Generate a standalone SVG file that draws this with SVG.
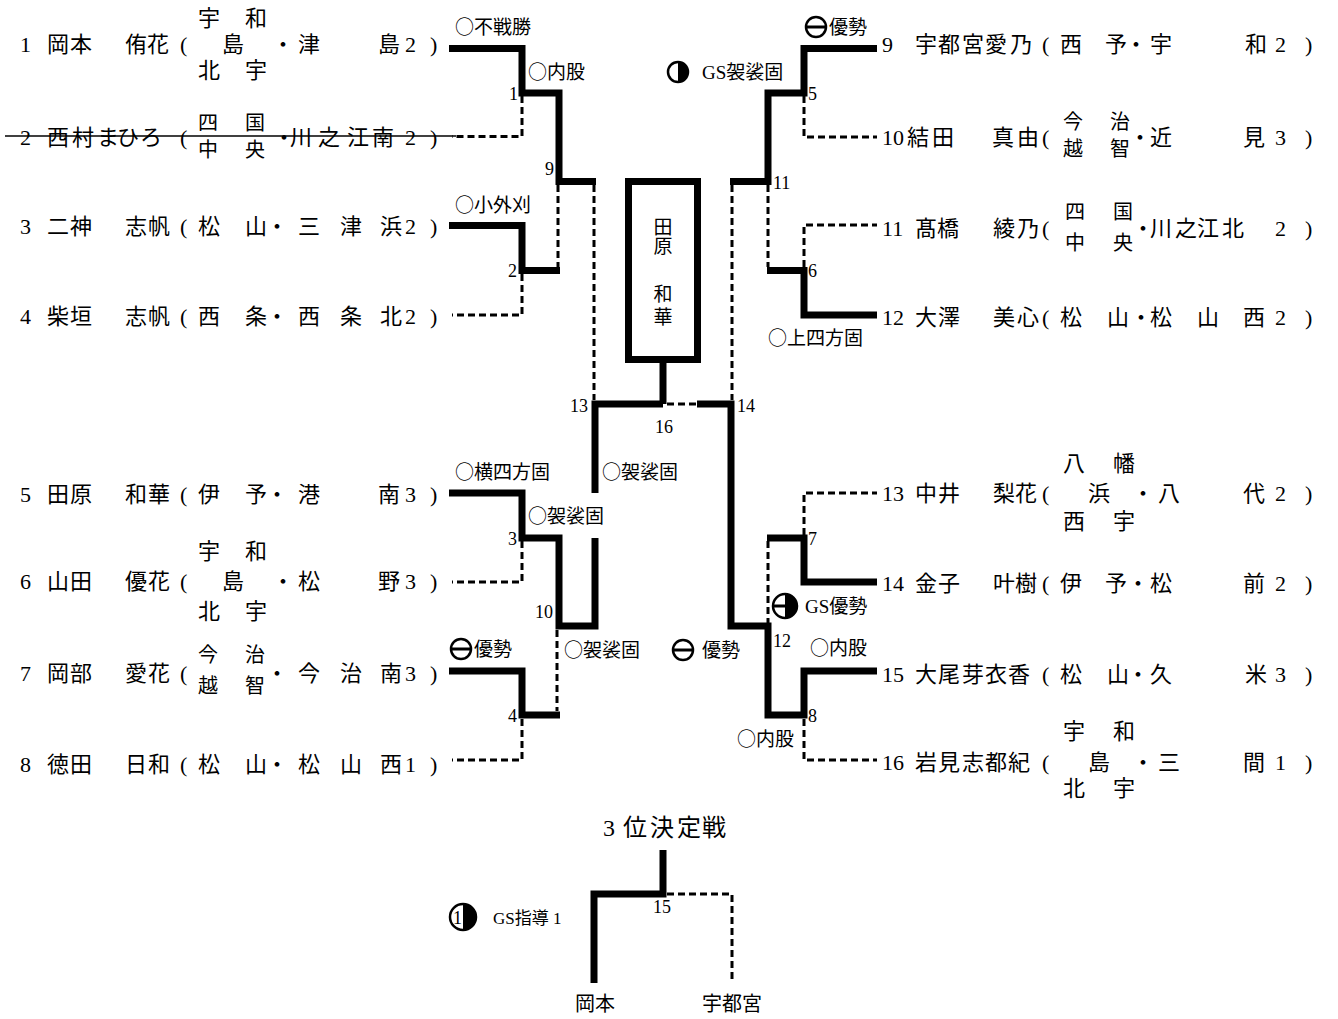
<svg xmlns="http://www.w3.org/2000/svg" width="1338" height="1019" viewBox="0 0 1338 1019">
<style>
text{font-family:"Liberation Serif","Noto Sans CJK JP",serif;fill:#000}
.cj{font-family:"Noto Sans CJK JP",sans-serif}
.m{font-size:22px}
.st{font-size:20px}
.l{font-size:19px}
.n{font-size:18px}
.e{text-anchor:end}
.mid{text-anchor:middle}
.w{fill:none;stroke:#000;stroke-width:7;stroke-linejoin:miter;stroke-linecap:butt}
.d{fill:none;stroke:#000;stroke-width:3;stroke-dasharray:7 4}
.ring{fill:#fff;stroke:#000;stroke-width:2.5}
.bar{stroke:#000;stroke-width:3}
</style>
<rect width="1338" height="1019" fill="#fff"/>

<!-- connectors -->
<g id="connectors">
  <!-- left upper -->
  <path class="w" d="M449,48.5 H522 V93 H559 V181.5 H596"/>
  <path class="d" d="M522,96 V136.5 H452"/>
  <path class="w" d="M449,225.5 H522 V270.5 H560"/>
  <path class="d" d="M522,274 V315 H452"/>
  <path class="d" d="M558,185 V267"/>
  <path class="d" d="M594,185 V400"/>
  <!-- left lower -->
  <path class="w" d="M449,493 H522 V538 H559 V626 H595 V538"/>
  <path class="w" d="M595,493 V404 H663"/>
  <path class="d" d="M522,541 V582 H452"/>
  <path class="w" d="M449,671 H522 V715 H560"/>
  <path class="d" d="M557,630 V711"/>
  <path class="d" d="M522,719 V760 H452"/>
  <!-- right upper -->
  <path class="w" d="M877,48.5 H804 V93 H768 V181.5 H730"/>
  <path class="d" d="M804,96 V137 H877"/>
  <path class="w" d="M877,315 H804 V270.5 H767"/>
  <path class="d" d="M804,267 V225 H877"/>
  <path class="d" d="M768,185 V267"/>
  <path class="d" d="M732,185 V400"/>
  <!-- right lower -->
  <path class="w" d="M697,404 H731 V626 H768 V715 H804 V671 H877"/>
  <path class="w" d="M877,582 H804 V538 H767"/>
  <path class="d" d="M804,535 V493 H877"/>
  <path class="d" d="M768,541 V623"/>
  <path class="d" d="M804,719 V760 H877"/>
  <!-- final -->
  <path class="d" d="M667,404 H697"/>
  <path class="w" d="M663,362 V404"/>
  <!-- third place -->
  <path class="w" d="M663,850 V894 H594 V983"/>
  <path class="d" d="M667,894 H732 V983"/>
  <!-- withdrawal strike -->
  <path d="M5,136 H456" stroke="#000" stroke-width="1.5" fill="none"/>
</g>

<!-- champion box -->
<g id="champion-box">
  <rect x="628.5" y="181.5" width="69" height="178" fill="#fff" stroke="#000" stroke-width="7"/>
  <text class="l mid" x="663" y="234">田</text>
  <text class="l mid" x="663" y="253">原</text>
  <text class="l mid" x="663" y="301">和</text>
  <text class="l mid" x="663" y="324">華</text>
</g>

<!-- left players -->
<g id="player-1">
  <text class="m" x="20" y="52">1</text>
  <text class="m" x="47 70 96 125 147" y="52">岡本　侑花</text>
  <text class="m" x="180" y="52">(</text>
  <text class="m" x="198 222 245" y="26">宇　和</text>
  <text class="m" x="222" y="52">島</text>
  <text class="m" x="198 222 245" y="78">北　宇</text>
  <text class="m" x="272 298 338 378" y="52">・津　島</text>
  <text class="m" x="405 430" y="52">2)</text>
</g>
<g id="player-2">
  <text class="m" x="20" y="145">2</text>
  <text class="m" x="47 72 97 117 140" y="145">西村まひろ</text>
  <text class="m" x="180" y="145">(</text>
  <text class="st" x="198 222 245" y="130">四　国</text>
  <text class="st" x="198 222 245" y="157">中　央</text>
  <text class="m" x="273 290 318 347 372" y="145">・川之江南</text>
  <text class="m" x="405 430" y="145">2)</text>
</g>
<g id="player-3">
  <text class="m" x="20" y="234">3</text>
  <text class="m" x="47 70 96 125 148" y="234">二神　志帆</text>
  <text class="m" x="180" y="234">(</text>
  <text class="m" x="198 222 245 266 298 320 340 360 380" y="234">松　山・三　津　浜</text>
  <text class="m" x="405 430" y="234">2)</text>
</g>
<g id="player-4">
  <text class="m" x="20" y="324">4</text>
  <text class="m" x="47 70 96 125 148" y="324">柴垣　志帆</text>
  <text class="m" x="180" y="324">(</text>
  <text class="m" x="198 222 245 266 298 320 340 360 380" y="324">西　条・西　条　北</text>
  <text class="m" x="405 430" y="324">2)</text>
</g>
<g id="player-5">
  <text class="m" x="20" y="502">5</text>
  <text class="m" x="47 70 96 125 148" y="502">田原　和華</text>
  <text class="m" x="180" y="502">(</text>
  <text class="m" x="198 222 245 266 298 338 378" y="502">伊　予・港　南</text>
  <text class="m" x="405 430" y="502">3)</text>
</g>
<g id="player-6">
  <text class="m" x="20" y="589">6</text>
  <text class="m" x="47 70 96 125 148" y="589">山田　優花</text>
  <text class="m" x="180" y="589">(</text>
  <text class="m" x="198 222 245" y="559">宇　和</text>
  <text class="m" x="222" y="589">島</text>
  <text class="m" x="198 222 245" y="619">北　宇</text>
  <text class="m" x="272 298 338 378" y="589">・松　野</text>
  <text class="m" x="405 430" y="589">3)</text>
</g>
<g id="player-7">
  <text class="m" x="20" y="681">7</text>
  <text class="m" x="47 70 96 125 148" y="681">岡部　愛花</text>
  <text class="m" x="180" y="681">(</text>
  <text class="st" x="198 222 245" y="662">今　治</text>
  <text class="st" x="198 222 245" y="693">越　智</text>
  <text class="m" x="266 298 320 340 360 380" y="681">・今　治　南</text>
  <text class="m" x="405 430" y="681">3)</text>
</g>
<g id="player-8">
  <text class="m" x="20" y="772">8</text>
  <text class="m" x="47 70 96 125 148" y="772">徳田　日和</text>
  <text class="m" x="180" y="772">(</text>
  <text class="m" x="198 222 245 266 298 320 340 360 380" y="772">松　山・松　山　西</text>
  <text class="m" x="405 430" y="772">1)</text>
</g>

<!-- right players -->
<g id="player-9">
  <text class="m" x="882" y="52">9</text>
  <text class="m" x="915 938 962 985 1010" y="52">宇都宮愛乃</text>
  <text class="m" x="1042" y="52">(</text>
  <text class="m" x="1060 1083 1105 1125 1150 1198 1245" y="52">西　予・宇　和</text>
  <text class="m" x="1275 1305" y="52">2)</text>
</g>
<g id="player-10">
  <text class="m" x="882" y="145">10</text>
  <text class="m" x="907 932 962 992 1017" y="145">結田　真由</text>
  <text class="m" x="1042" y="145">(</text>
  <text class="st" x="1063 1087 1110" y="129">今　治</text>
  <text class="st" x="1063 1087 1110" y="156">越　智</text>
  <text class="m" x="1129 1150 1198 1243" y="145">・近　見</text>
  <text class="m" x="1275 1305" y="145">3)</text>
</g>
<g id="player-11">
  <text class="m" x="882" y="236">11</text>
  <text class="m" x="915 937 965 993 1017" y="236">髙橋　綾乃</text>
  <text class="m" x="1042" y="236">(</text>
  <text class="st" x="1065 1089 1113" y="219">四　国</text>
  <text class="st" x="1065 1089 1113" y="250">中　央</text>
  <text class="m" x="1132 1150 1175 1197 1222" y="236">・川之江北</text>
  <text class="m" x="1275 1305" y="236">2)</text>
</g>
<g id="player-12">
  <text class="m" x="882" y="325">12</text>
  <text class="m" x="915 938 965 993 1017" y="325">大澤　美心</text>
  <text class="m" x="1042" y="325">(</text>
  <text class="m" x="1060 1083 1107 1130 1150 1173 1197 1220 1243" y="325">松　山・松　山　西</text>
  <text class="m" x="1275 1305" y="325">2)</text>
</g>
<g id="player-13">
  <text class="m" x="882" y="501">13</text>
  <text class="m" x="915 938 965 993 1015" y="501">中井　梨花</text>
  <text class="m" x="1042" y="501">(</text>
  <text class="m" x="1063 1088 1113" y="471">八　幡</text>
  <text class="m" x="1088" y="501">浜</text>
  <text class="m" x="1063 1088 1113" y="529">西　宇</text>
  <text class="m" x="1132 1158 1200 1243" y="501">・八　代</text>
  <text class="m" x="1275 1305" y="501">2)</text>
</g>
<g id="player-14">
  <text class="m" x="882" y="591">14</text>
  <text class="m" x="915 938 965 993 1015" y="591">金子　叶樹</text>
  <text class="m" x="1042" y="591">(</text>
  <text class="m" x="1060 1083 1105 1127 1150 1198 1243" y="591">伊　予・松　前</text>
  <text class="m" x="1275 1305" y="591">2)</text>
</g>
<g id="player-15">
  <text class="m" x="882" y="682">15</text>
  <text class="m" x="915 938 962 985 1008" y="682">大尾芽衣香</text>
  <text class="m" x="1042" y="682">(</text>
  <text class="m" x="1060 1083 1107 1127 1150 1198 1245" y="682">松　山・久　米</text>
  <text class="m" x="1275 1305" y="682">3)</text>
</g>
<g id="player-16">
  <text class="m" x="882" y="770">16</text>
  <text class="m" x="915 938 962 985 1008" y="770">岩見志都紀</text>
  <text class="m" x="1042" y="770">(</text>
  <text class="m" x="1063 1088 1113" y="739">宇　和</text>
  <text class="m" x="1088" y="770">島</text>
  <text class="m" x="1063 1088 1113" y="796">北　宇</text>
  <text class="m" x="1132 1158 1200 1243" y="770">・三　間</text>
  <text class="m" x="1275 1305" y="770">1)</text>
</g>

<!-- match numbers -->
<g id="match-numbers">
  <text class="n e" x="518" y="100">1</text>
  <text class="n e" x="554" y="175">9</text>
  <text class="n e" x="517" y="277">2</text>
  <text class="n e" x="588" y="412">13</text>
  <text class="n" x="737" y="412">14</text>
  <text class="n" x="655" y="433">16</text>
  <text class="n e" x="517" y="545">3</text>
  <text class="n e" x="553" y="618">10</text>
  <text class="n e" x="517" y="722">4</text>
  <text class="n" x="808" y="100">5</text>
  <text class="n" x="773" y="189">11</text>
  <text class="n" x="808" y="277">6</text>
  <text class="n" x="808" y="545">7</text>
  <text class="n" x="773" y="647">12</text>
  <text class="n" x="808" y="722">8</text>
  <text class="n" x="653" y="913">15</text>
</g>

<!-- result marks -->
<g id="marks">
  <circle class="ring" cx="678" cy="72" r="10"/>
  <path d="M678,62 A10,10 0 0 1 678,82 Z" fill="#000"/>
  <circle class="ring" cx="816" cy="27" r="10" stroke-width="3"/>
  <line class="bar" x1="806" y1="27" x2="826" y2="27"/>
  <circle class="ring" cx="461" cy="649" r="10" stroke-width="3"/>
  <line class="bar" x1="451" y1="649" x2="471" y2="649"/>
  <circle class="ring" cx="683" cy="650" r="10" stroke-width="3"/>
  <line class="bar" x1="673" y1="650" x2="693" y2="650"/>
  <circle class="ring" cx="785" cy="606" r="12"/>
  <path d="M785,594 A12,12 0 0 1 785,618 Z" fill="#000"/>
  <line class="bar" x1="773" y1="606" x2="785" y2="606"/>
  <circle class="ring" cx="463" cy="917" r="13"/>
  <path d="M463,904 A13,13 0 0 1 463,930 Z" fill="#000"/>
  <text class="n" x="453" y="924">1</text>
</g>

<!-- technique labels -->
<g id="labels">
  <text class="l" x="455" y="34"><tspan class="cj">○</tspan>不戦勝</text>
  <text class="l" x="528" y="79"><tspan class="cj">○</tspan>内股</text>
  <text class="l" x="702" y="79">GS袈裟固</text>
  <text class="l" x="829" y="34">優勢</text>
  <text class="l" x="455" y="212"><tspan class="cj">○</tspan>小外刈</text>
  <text class="l" x="768" y="345"><tspan class="cj">○</tspan>上四方固</text>
  <text class="l" x="455" y="479"><tspan class="cj">○</tspan>横四方固</text>
  <text class="l" x="602" y="479"><tspan class="cj">○</tspan>袈裟固</text>
  <text class="l" x="528" y="523"><tspan class="cj">○</tspan>袈裟固</text>
  <text class="l" x="474" y="656">優勢</text>
  <text class="l" x="564" y="657"><tspan class="cj">○</tspan>袈裟固</text>
  <text class="l" x="702" y="657">優勢</text>
  <text class="l" x="805" y="613">GS優勢</text>
  <text class="l" x="810" y="655"><tspan class="cj">○</tspan>内股</text>
  <text class="l" x="737" y="746"><tspan class="cj">○</tspan>内股</text>
</g>

<!-- third place -->
<g id="third-place">
  <text font-size="24" x="603 623 650 677 702" y="836">3位決定戦</text>
  <text class="st" x="575" y="1011">岡本</text>
  <text class="st" x="702" y="1011">宇都宮</text>
  <text font-size="17" x="493" y="924">GS指導 1</text>
</g>
</svg>
